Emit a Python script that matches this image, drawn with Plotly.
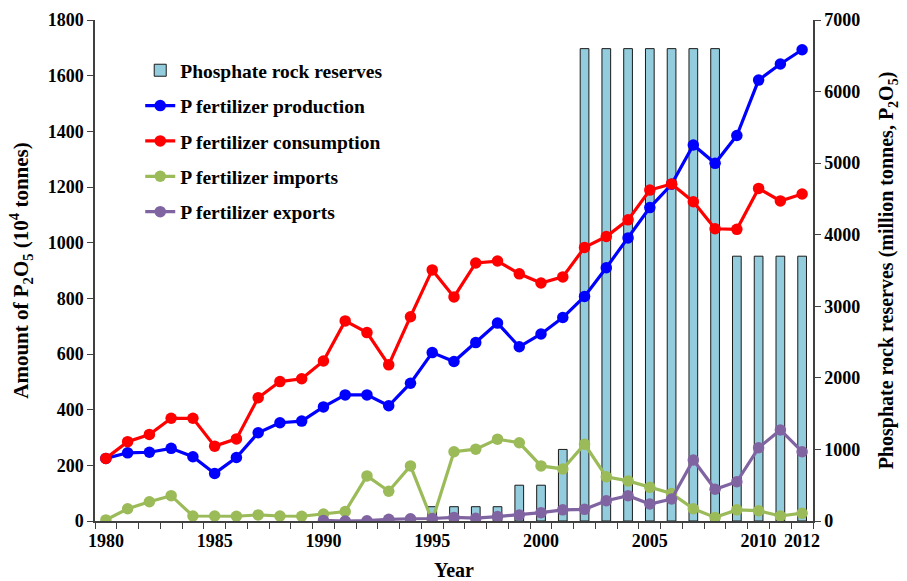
import plotly.graph_objects as go

years = list(range(1980, 2013))

production = [225, 245, 247, 261, 231, 171, 228, 317, 353, 359, 410, 453, 453, 414, 495,
              605, 573, 641, 711, 626, 672, 731, 807, 910, 1017, 1126, 1210, 1351, 1285,
              1385, 1584, 1642, 1693]
consumption = [225, 285, 311, 369, 369, 269, 295, 443, 501, 511, 575, 719, 677, 561, 734,
               902, 805, 927, 934, 888, 855, 877, 983, 1022, 1082, 1189, 1211, 1147, 1050,
               1048, 1195, 1150, 1175]
imports = [4, 44, 69, 91, 18, 18, 17, 22, 18, 17, 25, 34, 162, 107, 198,
           1, 249, 258, 294, 281, 198, 187, 276, 159, 144, 121, 99, 44, 13,
           40, 37, 18, 28]
exports = [None] * 10 + [2, 0, 1, 6, 8, 9, 13, 10, 16, 22, 30, 40, 42, 73, 91, 61, 79,
                         219, 114, 141, 263, 327, 249]

reserve_years = list(range(1995, 2013))
reserves = [200, 200, 200, 200, 500, 500, 1000, 6600, 6600, 6600, 6600, 6600, 6600, 6600,
            3700, 3700, 3700, 3700]

left_ticks = list(range(0, 1801, 200))
right_ticks = list(range(0, 7001, 1000))
x_tick_labels = [1980, 1985, 1990, 1995, 2000, 2005, 2010, 2012]

FONT = "Liberation Serif"
AXC = "#404040"

fig = go.Figure()

fig.add_trace(go.Bar(
    x=reserve_years, y=reserves, name="Phosphate rock reserves",
    marker=dict(color="#93CDDD", line=dict(color="#1a1a1a", width=1)),
    width=0.4, yaxis="y", legendgroup="g0"))

line_series = [
    ("P fertilizer production", production, "#0000FF"),
    ("P fertilizer consumption", consumption, "#FF0000"),
    ("P fertilizer imports", imports, "#9BBB59"),
    ("P fertilizer exports", exports, "#8064A2"),
]
for i, (name, vals, col) in enumerate(line_series):
    fig.add_trace(go.Scatter(
        x=years, y=vals, name=name, mode="lines+markers",
        line=dict(color=col, width=3.2), marker=dict(color=col, size=11.5),
        yaxis="y2", legendgroup=f"g{i+1}"))

fig.update_layout(
    width=907, height=581,
    margin=dict(l=95, r=94, t=20, b=60, autoexpand=False),
    paper_bgcolor="white", plot_bgcolor="white",
    font=dict(family=FONT, size=18, color="black"),
    showlegend=True,
    legend=dict(x=0.063, y=0.938, xanchor="left", yanchor="top",
                bgcolor="rgba(0,0,0,0)", traceorder="grouped", tracegroupgap=7,
                font=dict(family=FONT, size=19.5, color="black", weight="bold")),
    xaxis=dict(
        range=[1979.5, 2012.5], tickmode="array", tickvals=x_tick_labels,
        ticktext=[str(v) for v in x_tick_labels], automargin=False,
        ticks="outside", ticklen=0, showgrid=False, zeroline=False,
        showline=True, linecolor=AXC, linewidth=1.5, ticklabelstandoff=3,
        tickfont=dict(family=FONT, size=18, weight="bold"),
        minor=dict(tickmode="linear", tick0=1979.5, dtick=1, ticks="outside",
                   ticklen=6, tickcolor=AXC, tickwidth=1.2, showgrid=False),
        title=dict(text="Year", font=dict(family=FONT, size=20, weight="bold"), standoff=15),
    ),
    yaxis=dict(
        side="right", range=[0, 7000], tickmode="array", tickvals=right_ticks,
        ticks="outside", ticklen=6, tickcolor=AXC, tickwidth=1.2, automargin=False,
        showgrid=False, zeroline=False, showline=True, linecolor=AXC, linewidth=1.5,
        tickfont=dict(family=FONT, size=18, weight="bold"),
        title=dict(text="Phosphate rock reserves (million tonnes, P<sub>2</sub>O<sub>5</sub>)",
                   font=dict(family=FONT, size=20, weight="bold"), standoff=20),
    ),
    yaxis2=dict(
        side="left", overlaying="y", range=[0, 1800], tickmode="array", tickvals=left_ticks,
        ticks="outside", ticklen=6, tickcolor=AXC, tickwidth=1.2, automargin=False,
        showgrid=False, zeroline=False, showline=True, linecolor=AXC, linewidth=1.5,
        tickfont=dict(family=FONT, size=18, weight="bold"),
        title=dict(text="Amount of P<sub>2</sub>O<sub>5</sub> (10<sup>4</sup> tonnes)",
                   font=dict(family=FONT, size=21, weight="bold"), standoff=13),
    ),
    bargap=0.6,
)

fig.write_html("out.html", config={"displayModeBar": False},
               post_script="document.body.style.margin='0';")
